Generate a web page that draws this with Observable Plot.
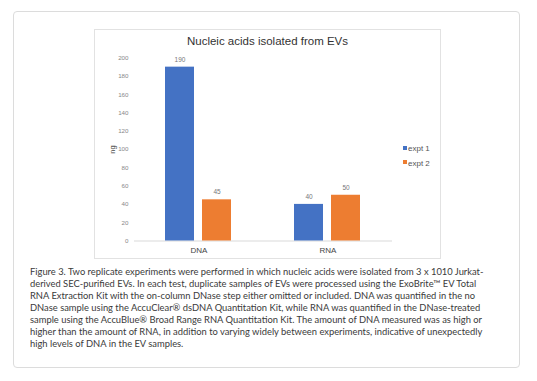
<!DOCTYPE html>
<html>
<head>
<meta charset="utf-8">
<script src="https://cdn.jsdelivr.net/npm/d3@7"></script>
<script src="https://cdn.jsdelivr.net/npm/@observablehq/plot@0.6"></script>
<style>
  html, body { margin: 0; padding: 0; background: #fff; }
  body { width: 537px; height: 381px; position: relative; overflow: hidden; font-family: Arial, "Liberation Sans", sans-serif; }
  #card { position: absolute; left: 13px; top: 11px; width: 507px; height: 357px; border: 1px solid #dcdcdc; border-radius: 4px; box-sizing: border-box; }
  #chartbox { position: absolute; left: 94px; top: 29px; width: 347px; height: 230px; border: 1px solid #e2e2e2; box-sizing: border-box; }
  #title { position: absolute; left: 0; right: 0; top: 5px; text-align: center; font-size: 11.5px; color: #333; font-family: Arial, "Liberation Sans", sans-serif; }
  #plot { position: absolute; left: 0; top: 0; }
  #legend { position: absolute; left: 308px; top: 112px; font-size: 8px; color: #555; line-height: 14.5px; }
  #legend .sw { display: inline-block; width: 4px; height: 4px; margin-right: 1px; vertical-align: middle; position: relative; top: -1px; }
  #caption { position: absolute; left: 30px; top: 266px; font-family: Lato, "Open Sans", sans-serif; font-size: 10px; line-height: 11.95px; color: #3a3a3a; white-space: nowrap; }
</style>
</head>
<body>
<div id="card"></div>
<div id="chartbox">
  <div id="plot"></div>
  <div id="title"></div>
  <div id="legend"></div>
</div>
<div id="caption"></div>
<script>
const chartTitle = "Nucleic acids isolated from EVs";
const categories = ["DNA", "RNA"];
const seriesNames = ["expt 1", "expt 2"];
const expt1 = [190, 40];
const expt2 = [45, 50];
const yTicks = [0, 20, 40, 60, 80, 100, 120, 140, 160, 180, 200];
const yLabel = "ng";
const colors = ["#4472C4", "#ED7D31"];
const captionLines = [
  "Figure 3. Two replicate experiments were performed in which nucleic acids were isolated from 3 x 1010 Jurkat-",
  "derived SEC-purified EVs. In each test, duplicate samples of EVs were processed using the ExoBrite\u2122 EV Total",
  "RNA Extraction Kit with the on-column DNase step either omitted or included. DNA was quantified in the no",
  "DNase sample using the AccuClear\u00ae dsDNA Quantitation Kit, while RNA was quantified in the DNase-treated",
  "sample using the AccuBlue\u00ae Broad Range RNA Quantitation Kit. The amount of DNA measured was as high or",
  "higher than the amount of RNA, in addition to varying widely between experiments, indicative of unexpectedly",
  "high levels of DNA in the EV samples."
];

const data = [];
categories.forEach((c, i) => {
  data.push({cat: c, series: seriesNames[0], value: expt1[i]});
  data.push({cat: c, series: seriesNames[1], value: expt2[i]});
});

document.getElementById("title").textContent = chartTitle;

const chart = Plot.plot({
  width: 345,
  height: 228,
  marginLeft: 38,
  marginRight: 48,
  marginTop: 27.5,
  marginBottom: 17.5,
  style: { fontFamily: "Arial, 'Liberation Sans', sans-serif", background: "transparent", overflow: "visible" },
  fx: { domain: categories, padding: 0, label: null, axis: "bottom", tickSize: 0, tickPadding: 6 },
  x: { domain: seriesNames, paddingInner: 0.213, paddingOuter: 0.833, axis: null },
  y: { domain: [0, 200], ticks: yTicks, tickSize: 0, tickPadding: 6, label: yLabel, labelAnchor: "center", labelOffset: 25, labelArrow: "none", tickFormat: d => d },
  color: { domain: seriesNames, range: colors },
  marks: [
    Plot.ruleY([0], { stroke: "#d9d9d9", strokeWidth: 1 }),
    Plot.barY(data, { fx: "cat", x: "series", y: "value", fill: "series" }),
    Plot.text(data, { fx: "cat", x: "series", y: "value", text: d => String(d.value), dy: -7.5, fontSize: 6.5, fill: "#777" })
  ]
});
document.getElementById("plot").appendChild(chart);

chart.querySelectorAll("g[aria-label='y-axis tick label']").forEach(g => { g.setAttribute("font-size", "6.2"); g.setAttribute("fill", "#888"); });
chart.querySelectorAll("g[aria-label='y-axis label']").forEach(g => {
  g.setAttribute("font-size", "7.5"); g.setAttribute("fill", "#444");
  g.querySelectorAll("text").forEach(t => { t.textContent = yLabel; });
});
chart.querySelectorAll("g[aria-label='fx-axis tick label']").forEach(g => { g.setAttribute("font-size", "8"); g.setAttribute("fill", "#444"); });

const legend = document.getElementById("legend");
seriesNames.forEach((s, i) => {
  const row = document.createElement("div");
  const sw = document.createElement("span");
  sw.className = "sw";
  sw.style.background = colors[i];
  row.appendChild(sw);
  row.appendChild(document.createTextNode(s));
  legend.appendChild(row);
});

const cap = document.getElementById("caption");
const capDivs = captionLines.map(l => { const d = document.createElement("div"); d.textContent = l; d.style.display = "inline-block"; cap.appendChild(d); cap.appendChild(document.createElement("br")); return d; });
// fit widest line to ~454px
const widest = Math.max(...capDivs.map(d => d.getBoundingClientRect().width));
const fs = 10 * 454 / widest;
cap.style.fontSize = fs.toFixed(2) + "px";
</script>
</body>
</html>
